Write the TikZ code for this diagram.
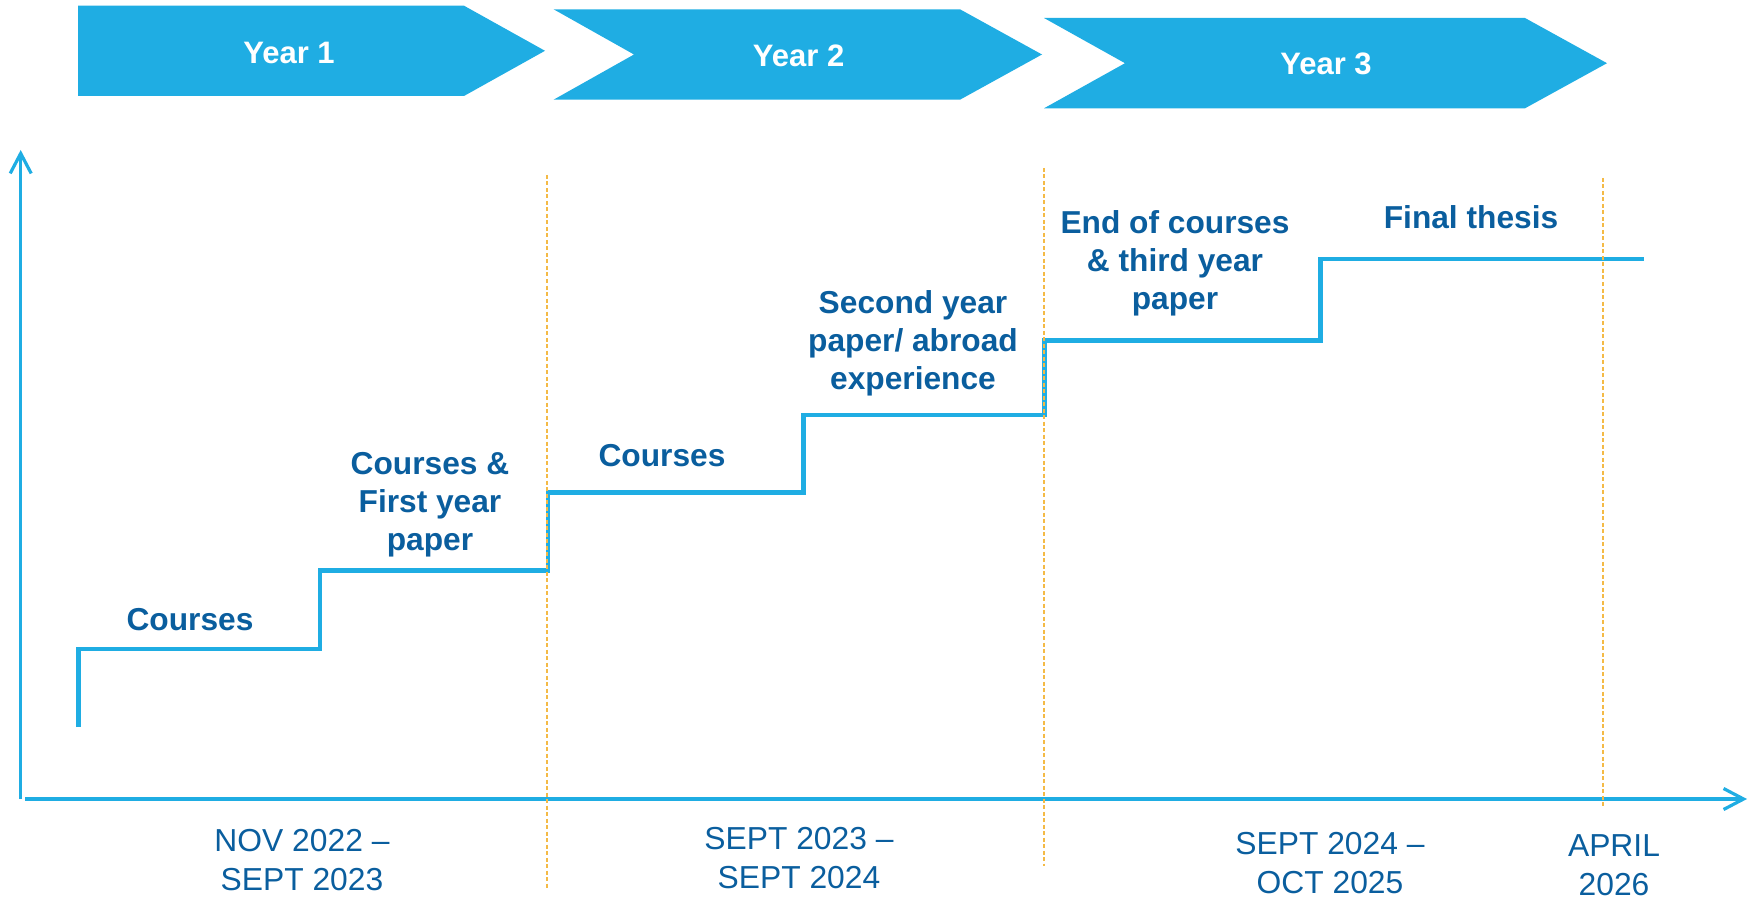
\documentclass[tikz,border=0pt]{standalone}
\usepackage{fontspec}
\setmainfont{Liberation Sans}
\usetikzlibrary{arrows.meta}
\definecolor{barblue}{RGB}{31,173,227}
\definecolor{txtblue}{RGB}{10,94,158}
\definecolor{dashorange}{RGB}{244,186,70}
\begin{document}
\begin{tikzpicture}[x=1pt,y=-1pt,
  banner/.style={fill=barblue, draw=none},
  yeartext/.style={text=white, font=\bfseries\fontsize{31}{36}\selectfont, inner sep=0, anchor=base},
  steplabel/.style={text=txtblue, font=\bfseries\fontsize{31.7}{37.9}\selectfont, align=center, inner sep=0, anchor=base},
  datelabel/.style={text=txtblue, font=\fontsize{31.8}{38.7}\selectfont, align=center, inner sep=0, anchor=base},
  stair/.style={draw=barblue, line width=4.7pt},
  axisline/.style={draw=barblue, line width=3.2pt, -{Straight Barb[length=20pt,width=21pt]}},
  guide/.style={draw=dashorange, line width=1.1pt, dash pattern=on 4pt off 2.5pt}]
\useasboundingbox (0,0) rectangle (1755,901);
% banners
\fill[banner] (78,5.7) -- (464,5.7) -- (545,50.8) -- (464,96) -- (78,96) -- cycle;
\fill[banner] (553.6,9.3) -- (960,9.3) -- (1042,54.5) -- (960,99.7) -- (553.6,99.7) -- (634,54.5) -- cycle;
\fill[banner] (1044,18) -- (1525,18) -- (1607,63.2) -- (1525,108.3) -- (1044,108.3) -- (1125,63.2) -- cycle;
\node[yeartext] (y1) at (289,63.3) {Year 1};
\node[yeartext] (y2) at (798.6,66.7) {Year 2};
\node[yeartext] (y3) at (1326,75) {Year 3};
% axes
\coordinate (origin) at (20.7,799);
\coordinate (ytip) at (20.7,150);
\coordinate (xstart) at (25,799);
\coordinate (xtip) at (1747,799);
\draw[axisline] (origin) -- (ytip);
\draw[axisline] (xstart) -- (xtip);
% staircase
\draw[stair] (78.5,727) |- (320,649) |- (548,570.7) |- (803.5,492.5) |- (1044.6,415) |- (1320.6,340.5) |- (1643.5,259);
% labels (multi-line nodes: base = baseline of the last line)
\node[steplabel] (c1) at (190,630.7) {Courses};
\node[steplabel] (c2) at (430,550) {Courses \&\\First year\\paper};
\node[steplabel] (c3) at (662,466.7) {Courses};
\node[steplabel] (c4) at (913,389) {Second year\\paper/ abroad\\experience};
\node[steplabel] (c5) at (1175,309) {End of courses\\\& third year\\paper};
\node[steplabel] (c6) at (1471,229) {Final thesis};
\node[datelabel] (d1) at (302,890) {NOV 2022 –\\SEPT 2023};
\node[datelabel] (d2) at (799,888) {SEPT 2023 –\\SEPT 2024};
\node[datelabel] (d3) at (1330,893) {SEPT 2024 –\\OCT 2025};
\node[datelabel] (d4) at (1614,895) {APRIL\\2026};
% guides
\draw[guide] (547,175) -- (547,889);
\draw[guide] (1044,168) -- (1044,866);
\draw[guide] (1603,178) -- (1603,808);
\end{tikzpicture}
\end{document}
